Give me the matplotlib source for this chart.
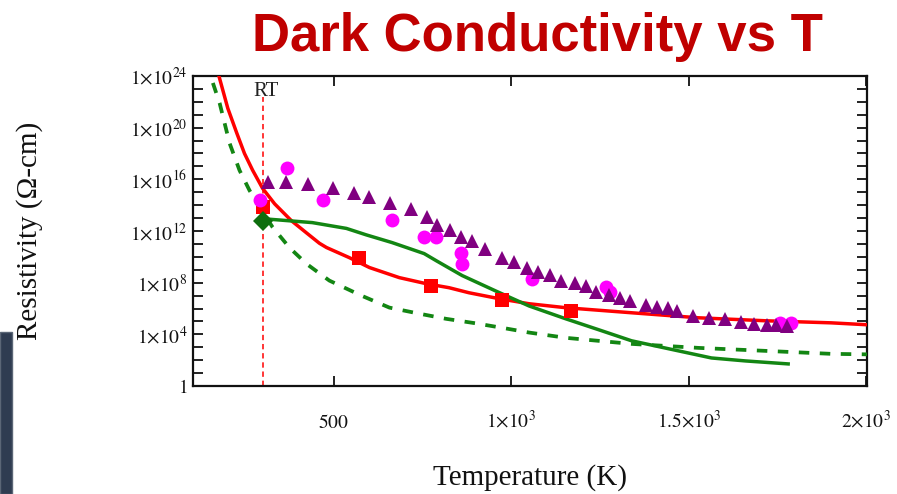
import numpy as np
import matplotlib
matplotlib.use("Agg")
import matplotlib.pyplot as plt
from matplotlib.patches import Rectangle
from matplotlib.ticker import FixedLocator, NullFormatter

plt.rcParams["mathtext.fontset"] = "stix"
plt.rcParams["font.family"] = ["Liberation Serif", "DejaVu Serif"]

# ---- data: temperature (K) and log10 of resistivity (Ohm-cm) ----
RT_TEMP = 300

red_fit_T = [177, 202, 227, 249, 272, 300, 334, 381, 426, 460, 480, 544, 601, 685,
             761, 825, 881, 966, 1050, 1154, 1339, 1528, 1716, 1901, 2003]
red_fit_log = [24.0, 21.5, 19.6, 18.0, 16.7, 15.3, 14.1, 12.8, 11.8, 11.05, 10.72,
               9.94, 9.17, 8.39, 7.92, 7.61, 7.22, 6.76, 6.37, 6.06, 5.67, 5.28,
               5.05, 4.89, 4.74]

red_sq_T = [300, 572, 775, 974, 1168]
red_sq_log = [13.85, 9.94, 7.77, 6.68, 5.83]

green_fit_T = [300, 315, 348, 440, 536, 592, 665, 755, 789, 862, 957, 1050, 1154,
               1247, 1339, 1471, 1564, 1660, 1780]
green_fit_log = [12.74, 12.92, 12.85, 12.65, 12.2, 11.7, 11.1, 10.25, 9.7, 8.55,
                 7.35, 6.2, 5.2, 4.35, 3.5, 2.72, 2.17, 1.94, 1.71]

green_model_T = [160, 179, 207, 235, 263, 292, 328, 376, 424, 488, 578, 657, 741,
                 817, 901, 986, 1050, 1154, 1339, 1528, 1716, 1901, 2003]
green_model_log = [23.46, 21.9, 18.8, 16.7, 15.15, 13.83, 12.3, 10.7, 9.45, 8.16,
                   7.0, 6.07, 5.6, 5.2, 4.85, 4.45, 4.14, 3.73, 3.26, 2.95, 2.72,
                   2.49, 2.45]

green_rt_T = [300]
green_rt_log = [12.74]

magenta_T = [292, 370, 469, 665, 755, 789, 859, 862, 1058, 1266, 1278, 1758, 1789]
magenta_log = [14.37, 16.85, 14.37, 12.82, 11.5, 11.5, 10.33, 9.48, 8.31, 7.69,
               7.3, 4.89, 4.89]

purple_T = [314, 367, 429, 497, 558, 601, 660, 719, 763, 792, 828, 859, 890, 926,
            974, 1008, 1044, 1075, 1109, 1140, 1179, 1210, 1238, 1275, 1306, 1334,
            1379, 1410, 1443, 1466, 1513, 1556, 1603, 1646, 1685, 1721, 1747, 1778]
purple_log = [15.77, 15.77, 15.61, 15.30, 14.91, 14.60, 14.14, 13.67, 13.05, 12.50,
              12.04, 11.50, 11.26, 10.64, 9.94, 9.63, 9.17, 8.85, 8.62, 8.16, 8.0,
              7.77, 7.3, 7.07, 6.83, 6.6, 6.29, 6.14, 6.06, 5.83, 5.44, 5.28, 5.2,
              4.97, 4.82, 4.74, 4.74, 4.66]

x_ticks = [500, 1000, 1500, 2000]
x_tick_labels = [r"$500$", r"$1{\times}10^{3}$", r"$1.5{\times}10^{3}$", r"$2{\times}10^{3}$"]
y_tick_exps = [0, 4, 8, 12, 16, 20, 24]
y_tick_labels = [r"$1$"] + [rf"$1{{\times}}10^{{{e}}}$" for e in y_tick_exps[1:]]


def pw(v):
    return np.power(10.0, np.asarray(v, dtype=float))


W, H = 897, 494
fig = plt.figure(figsize=(W / 100, H / 100), dpi=100)
ax = fig.add_axes([193 / W, 1 - 386 / H, (867 - 193) / W, (386 - 76) / H])

ax.set_xlim(104, 2002)
ax.set_yscale("log")
ax.set_ylim(1, 1e24)

RED = "#FF0000"
GREEN = "#138613"

ax.plot(red_fit_T, pw(red_fit_log), color=RED, lw=2.5, zorder=3)
ax.plot(green_model_T, pw(green_model_log), color=GREEN, lw=2.7,
        dashes=(2.8, 2.8), zorder=3)
ax.plot(green_fit_T, pw(green_fit_log), color=GREEN, lw=2.5, zorder=4)
ax.plot(red_sq_T, pw(red_sq_log), "s", color=RED, ms=10, mew=0, zorder=5)
ax.plot(green_rt_T, pw(green_rt_log), "D", color="#0E6E0E", ms=10.5, mew=0, zorder=6)
ax.plot(magenta_T, pw(magenta_log), "o", color="#FF00FF", ms=10, mew=0, zorder=5)
ax.plot(purple_T, pw(purple_log), "^", color="#800080", ms=10.5, mew=0, zorder=7)

# room-temperature marker
ax.axvline(RT_TEMP, ymin=0, ymax=(386 - 97) / 310, color=RED, lw=1.1,
           dashes=(3.5, 2.5), zorder=2)
ax.text(RT_TEMP + 10, pw(22.8), "RT", ha="center", va="center", fontsize=15,
        family="Liberation Serif", color="#222222")

# axes styling
for s in ax.spines.values():
    s.set_linewidth(1.6)
    s.set_color("#111111")

ax.xaxis.set_major_locator(FixedLocator(x_ticks))
ax.set_xticklabels(x_tick_labels, fontsize=14)
ax.yaxis.set_major_locator(FixedLocator(pw(y_tick_exps)))
ax.yaxis.set_minor_locator(FixedLocator(pw([e for e in range(25) if e % 4])))
ax.yaxis.set_minor_formatter(NullFormatter())
ax.set_yticklabels(y_tick_labels, fontsize=14)

ax.tick_params(axis="both", which="both", direction="in", length=7, width=1.3,
               top=True, right=True, colors="#111111")
ax.tick_params(axis="y", which="both", pad=4)
ax.tick_params(axis="x", which="major", pad=30)
for lbl in ax.get_xticklabels():
    lbl.set_va("baseline")

ax.set_xlabel("Temperature (K)", fontsize=21, color="#111111")
ax.xaxis.label.set_va("center")
ax.xaxis.set_label_coords(0.5, (386 - 478) / 310)
ax.set_ylabel("Resistivity (Ω-cm)", fontsize=21, color="#111111")
ax.yaxis.label.set_va("center")
ax.yaxis.set_label_coords((30 - 193) / 674, 0.5)

# title
fig.text(537 / W, 1 - 51 / H, "Dark Conductivity vs T", ha="center", va="baseline",
         fontsize=38, fontweight="bold", family="Liberation Sans", color="#C00000")

# slide-edge panel at the lower left
fig.patches.append(Rectangle((0, 0), 12 / W, 162 / H, transform=fig.transFigure,
                             facecolor="#2F3C51", edgecolor="#5B6676", lw=1.0,
                             zorder=0))

fig.savefig("out.png", dpi=100)
